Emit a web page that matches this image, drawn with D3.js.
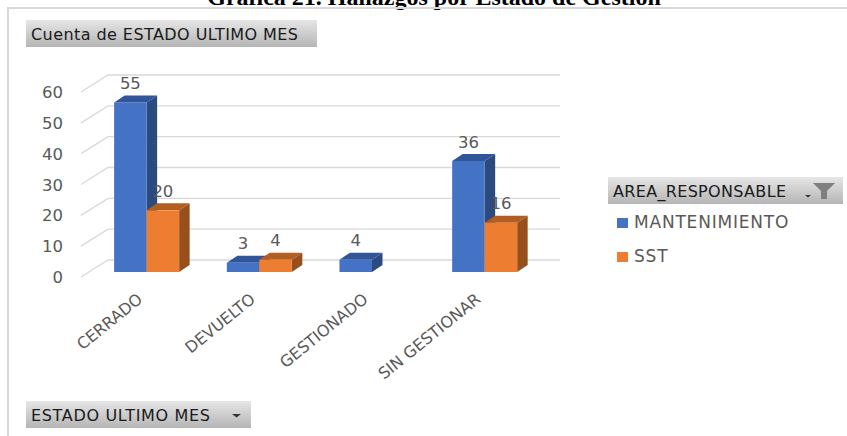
<!DOCTYPE html>
<html><head><meta charset="utf-8">
<script src="https://cdn.jsdelivr.net/npm/d3@7"></script>
<style>html,body{margin:0;padding:0;background:#fff;overflow:hidden}svg{display:block}</style>
</head><body><svg id="c" width="847" height="436"></svg>
<script>
const categories = ["CERRADO","DEVUELTO","GESTIONADO","SIN GESTIONAR"];
const seriesNames = ["MANTENIMIENTO","SST"];
const mantenimiento = [55,3,4,36];
const sst = [20,4,null,16];
const yTicks = [0,10,20,30,40,50,60];
const titleText = "Gráfica 21. Hallazgos por Estado de Gestión";
const valueFieldText = "Cuenta de ESTADO ULTIMO MES";
const axisFieldText = "ESTADO ULTIMO MES";
const legendFieldText = "AREA_RESPONSABLE";

const svg = d3.select("#c");
const font = "'DejaVu Sans',sans-serif";
const colors = {MANTENIMIENTO:{front:"#4472c4",side:"#2a4a80",top:"#32559a"},SST:{front:"#ed7d31",side:"#97501c",top:"#b25d21"}};
const defs = svg.append("defs");
const g = defs.append("linearGradient").attr("id","btn").attr("x1",0).attr("x2",0).attr("y1",0).attr("y2",1);
g.append("stop").attr("offset",0).attr("stop-color","#e6e6e6");
g.append("stop").attr("offset",1).attr("stop-color","#b5b5b5");

// title and frame
svg.append("text").attr("x",434).attr("y",5).attr("text-anchor","middle")
  .attr("font-family","'Liberation Serif',serif").attr("font-weight","bold").attr("font-size",24).attr("fill","#000").text(titleText);
svg.append("path").attr("d","M8 436V8H847").attr("fill","none").attr("stroke","#d9d9d9").attr("stroke-width",2);

// scales
const y = d3.scaleLinear().domain([0,60]).range([0,185]);
const x0 = d3.scaleBand().domain(categories).range([90.3,541]);
const x1 = d3.scaleBand().domain(seriesNames).range([0,65]);
const floorFront = {x:81,y:277}, floorBack = {x:108,y:260}, wallRight = 560;
const barBase = 272, depthX = 10.5, depthY = 7;

// gridlines
const grid = svg.append("g").attr("fill","none").attr("stroke","#d9d9d9").attr("stroke-width",1.3);
yTicks.forEach(t=>{
  const d = y(t);
  grid.append("path").attr("d",`M${floorFront.x} ${floorFront.y-d}L${floorBack.x} ${floorBack.y-d}H${wallRight}`);
});
svg.append("g").selectAll("text").data(yTicks).join("text")
  .attr("x",63).attr("y",t=>floorFront.y-y(t)+6).attr("text-anchor","end")
  .attr("font-family",font).attr("font-size",16.5).attr("fill","#595959").text(t=>t);

// bars
const rows = [];
categories.forEach((c,i)=>{
  rows.push({c,s:"MANTENIMIENTO",v:mantenimiento[i]});
  if(sst[i]!==null) rows.push({c,s:"SST",v:sst[i]});
});
const bars = svg.append("g").selectAll("g").data(rows).join("g");
const bx = d=>x0(d.c)+(x0.bandwidth()-65)/2+x1(d.s);
bars.each(function(d){
  const b = d3.select(this), X = bx(d), W = x1.bandwidth(), T = barBase-y(d.v), C = colors[d.s];
  b.append("path").attr("fill",C.side).attr("d",`M${X+W} ${T}l${depthX} ${-depthY}V${barBase-depthY}l${-depthX} ${depthY}z`);
  b.append("path").attr("fill",C.top).attr("d",`M${X} ${T}l${depthX} ${-depthY}h${W}l${-depthX} ${depthY}z`);
  b.append("rect").attr("x",X).attr("y",T).attr("width",W).attr("height",y(d.v)).attr("fill",C.front);
});
svg.append("g").selectAll("text").data(rows).join("text")
  .attr("x",d=>bx(d)+x1.bandwidth()/2).attr("y",d=>barBase-y(d.v)-13.5)
  .attr("text-anchor","middle").attr("font-family",font).attr("font-size",16.5).attr("fill","#595959").text(d=>d.v);

// category labels
svg.append("g").selectAll("text").data(categories).join("text")
  .attr("transform",c=>`translate(${x0(c)+x0.bandwidth()/2-3},301) rotate(-39)`)
  .attr("text-anchor","end")
  .attr("font-family",font).attr("font-size",16).attr("fill","#595959").text(c=>c);

// field buttons
function button(x,yy,w,h,label,len){
  svg.append("rect").attr("x",x).attr("y",yy).attr("width",w).attr("height",h).attr("fill","url(#btn)");
  svg.append("text").attr("x",x+5).attr("y",yy+h/2+6).attr("font-family",font).attr("font-size",16).attr("fill","#1a1a1a")
    .attr("textLength",len).attr("lengthAdjust","spacing").text(label);
}
button(26,20,291,27,valueFieldText,267);
button(26,401,225,27,axisFieldText,179);
svg.append("path").attr("d","M232 414h9l-4.5 3.5z").attr("fill","#333");
button(608,177,235,27,legendFieldText,173);
svg.append("path").attr("d","M805 195h6l-3 2.5z").attr("fill","#333");
svg.append("path").attr("d","M813 183h22l-8 8v8h-6v-8z").attr("fill","#7f7f7f");

// legend
const leg = svg.append("g").selectAll("g").data(seriesNames).join("g")
  .attr("transform",(d,i)=>`translate(617,${218+i*34})`);
leg.append("rect").attr("width",11).attr("height",10).attr("fill",d=>colors[d].front);
leg.append("text").attr("x",17).attr("y",10).attr("font-family",font).attr("font-size",17).attr("letter-spacing",0.8).attr("fill","#595959").text(d=>d);
</script></body></html>
